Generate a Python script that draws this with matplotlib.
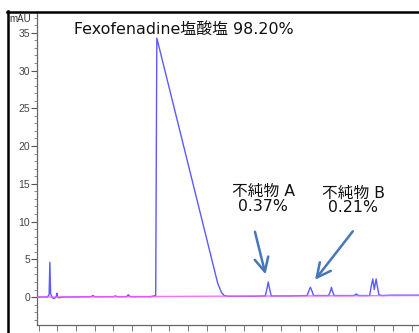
import matplotlib
matplotlib.use("Agg")
import matplotlib.pyplot as plt
from matplotlib.lines import Line2D
from matplotlib.ticker import MultipleLocator, NullFormatter

plt.rcParams['font.family'] = ['DejaVu Sans', 'Noto Sans CJK JP']

# Sample trace (blue): retention time (min), absorbance (mAU)
sample_t = [-0.1, 0.45, 0.55, 0.59, 0.63, 0.70, 0.78, 0.88, 0.94, 0.97, 1.00, 1.06, 1.3,
            2.8, 2.9, 3.0, 4.0, 4.1, 4.2, 4.7, 4.8, 4.9, 5.2, 6.0, 6.27, 6.33,
            9.6, 9.8, 9.95, 10.16, 11.5, 12.15, 12.25, 12.31,
            12.37, 12.47, 13.5, 14.40, 14.50, 14.57, 14.64, 14.74, 15.55, 15.65,
            15.70, 15.75, 15.85, 16.9, 17.04, 17.15, 17.75, 17.85, 17.92, 18.0,
            18.1, 18.15, 18.25, 18.4, 19.0, 20.5]
sample_v = [0.0, 0.0, 0.3, 4.6, 0.5, 0.0, -0.2, -0.1, 0.1, 0.5, 0.1, -0.1, 0.0,
            0.05, 0.2, 0.05, 0.05, 0.15, 0.05, 0.05, 0.3, 0.05, 0.05, 0.05, 0.2, 34.3,
            1.8, 0.6, 0.2, 0.1, 0.1, 0.15, 1.2, 2.0,
            1.2, 0.15, 0.15, 0.2, 0.9, 1.3, 0.9, 0.2, 0.2, 0.8,
            1.3, 0.8, 0.2, 0.2, 0.4, 0.2, 0.2, 1.6, 2.4, 1.0,
            2.4, 1.6, 0.3, 0.2, 0.25, 0.25]

# Blank trace (magenta)
blank_t = [-0.1, 4.0, 10.0, 20.5]
blank_v = [0.0, 0.05, 0.12, 0.2]

main_label = "Fexofenadine塩酸塩 98.20%"
impurity_labels = ["不純物 A\n0.37%", "不純物 B\n0.21%"]

fig = plt.figure(figsize=(4.19, 3.33), dpi=100)
ax = fig.add_axes([37/419, 1-325/333, 1-37/419, (325-12)/333])

ax.plot(sample_t, sample_v, color="#5a5aff", lw=1.0, zorder=2)
ax.plot(blank_t, blank_v, color="#ff55ff", lw=1.0, alpha=0.85, zorder=3)

ax.set_xlim(-0.1, 20.4)
ax.set_ylim(-3.7, 37.75)

ax.yaxis.set_major_locator(MultipleLocator(5))
ax.yaxis.set_minor_locator(MultipleLocator(1))
ax.xaxis.set_major_locator(MultipleLocator(1))
ax.xaxis.set_major_formatter(NullFormatter())
ax.tick_params(axis='y', which='major', length=4, width=0.8, color="#555555",
               labelsize=7.5, labelcolor="#444444", pad=1)
ax.tick_params(axis='y', which='minor', length=2.5, width=0.6, color="#777777")
ax.tick_params(axis='x', which='major', length=4, width=0.7, color="#777777")
ax.set_yticks([0, 5, 10, 15, 20, 25, 30, 35])
for lab in ax.get_yticklabels():
    lab.set_family(['Liberation Sans', 'DejaVu Sans'])

for s in ['top', 'right']:
    ax.spines[s].set_visible(False)
for s in ['left', 'bottom']:
    ax.spines[s].set_color("#666666")
    ax.spines[s].set_linewidth(0.9)

ax.text(7.8, 35.4, main_label, fontsize=11.4, ha='center', va='center', color="#111111")
ax.text(12.04, 13.0, impurity_labels[0], fontsize=11.3, ha='center', va='center',
        color="#111111", linespacing=1.0)
ax.text(16.88, 12.8, impurity_labels[1], fontsize=11.3, ha='center', va='center',
        color="#111111", linespacing=1.0)

arrow_kw = dict(arrowstyle="->,head_length=1.0,head_width=0.5", color="#4677b8", lw=1.8)
ax.annotate("", xy=(12.2, 2.65), xytext=(11.56, 9.0), arrowprops=arrow_kw)
ax.annotate("", xy=(14.73, 2.0), xytext=(16.94, 9.0), arrowprops=arrow_kw)

fig.text(9/419, 1-19/333, "mAU", fontsize=7, ha='left', va='center', color="#333333",
         family=['Liberation Sans', 'DejaVu Sans'])

fig.add_artist(Line2D([8/419, 8/419], [0, 1-11/333], color="black", lw=1.8,
                      transform=fig.transFigure))
fig.add_artist(Line2D([7/419, 1], [1-12/333, 1-12/333], color="black", lw=1.8,
                      transform=fig.transFigure))

fig.savefig("out.png", dpi=100)
